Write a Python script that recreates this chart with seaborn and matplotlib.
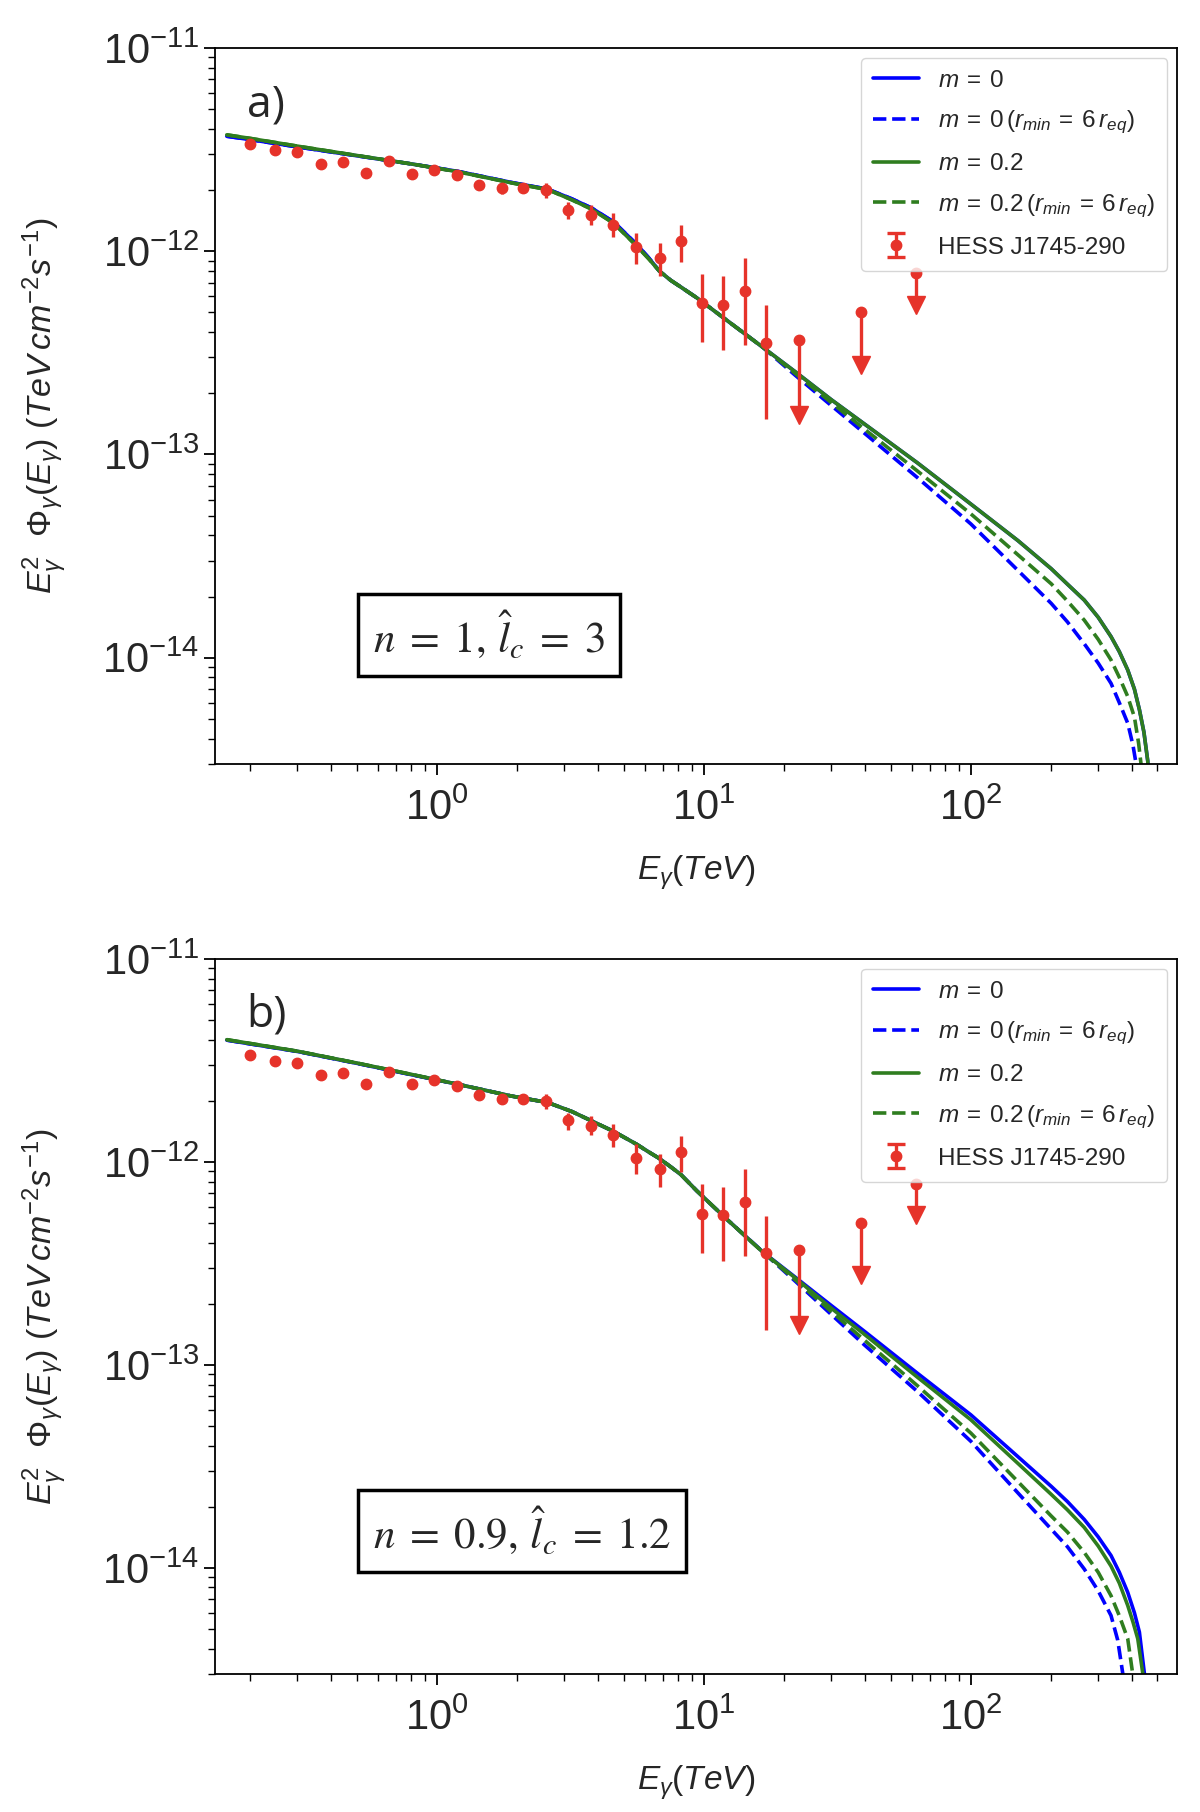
import numpy as np
import matplotlib
matplotlib.use("Agg")
import matplotlib.pyplot as plt
import seaborn as sns
from matplotlib.container import ErrorbarContainer
from matplotlib.lines import Line2D
from matplotlib.collections import LineCollection

# HESS J1745-290 points (E in TeV, flux in 1e-12 TeV cm^-2 s^-1)
hess_E = [0.200, 0.247, 0.300, 0.369, 0.443, 0.540, 0.662, 0.806, 0.975, 1.19, 1.43, 1.75,
          2.10, 2.57, 3.09, 3.78, 4.55, 5.55, 6.83, 8.20, 9.84, 11.8, 14.2, 17.1]
hess_F = [3.36, 3.14, 3.08, 2.69, 2.75, 2.43, 2.77, 2.41, 2.52, 2.37, 2.13, 2.04,
          2.04, 2.00, 1.60, 1.51, 1.35, 1.05, 0.924, 1.12, 0.556, 0.546, 0.634, 0.354]
hess_lo = [0.04, 0.04, 0.04, 0.04, 0.05, 0.07, 0.05, 0.05, 0.05, 0.05, 0.06, 0.12,
           0.07, 0.17, 0.16, 0.16, 0.17, 0.18, 0.17, 0.23, 0.20, 0.22, 0.29, 0.205]
hess_hi = [0.04, 0.04, 0.04, 0.04, 0.05, 0.07, 0.05, 0.05, 0.05, 0.05, 0.06, 0.12,
           0.07, 0.17, 0.15, 0.18, 0.19, 0.18, 0.17, 0.22, 0.22, 0.21, 0.29, 0.19]
# upper limits: value and arrow length
ul_E = [22.8, 38.9, 62.2]
ul_F = [0.367, 0.501, 0.78]
ul_len = [0.210, 0.225, 0.235]

# model curves, common low-energy grid
E_core = [0.163, 0.2, 0.3, 0.5, 0.8, 1.2, 1.9, 2.6, 3.2, 3.8, 4.6, 5.6, 6.2, 6.8, 7.5, 8.2, 9.4, 12, 16.7]

# panel a: n = 1, l_c = 3
a_core_m0 = [3.68, 3.54, 3.26, 2.95, 2.69, 2.47, 2.18, 2.02, 1.81, 1.63, 1.39, 1.08, 0.93, 0.80, 0.72, 0.666, 0.59, 0.464, 0.335]
a_core_m2 = [3.74, 3.59, 3.29, 2.96, 2.69, 2.46, 2.17, 2.01, 1.79, 1.61, 1.37, 1.06, 0.92, 0.80, 0.72, 0.666, 0.59, 0.464, 0.335]
a_tail_m0_E = [22, 30, 40, 63, 100, 150, 200, 230, 266, 300, 335, 360, 387, 410, 428, 445, 460, 475]
a_tail_m0_F = [0.255, 0.186, 0.141, 0.091, 0.057, 0.0377, 0.0274, 0.0230, 0.0192, 0.0158, 0.0127, 0.0107,
               0.0087, 0.0070, 0.00555, 0.0043, 0.0031, 0.001]
a_tail_m0r_E = [22, 30, 40, 63, 100, 150, 200, 230, 266, 300, 335, 360, 387, 405, 416, 430]
a_tail_m0r_F = [0.245, 0.174, 0.127, 0.077, 0.0455, 0.0269, 0.0185, 0.0150, 0.0117, 0.0094, 0.00748, 0.0060,
                0.00476, 0.0037, 0.003, 0.001]
a_tail_m2_E = [22, 30, 40, 63, 100, 150, 200, 230, 266, 300, 335, 360, 387, 410, 428, 445, 460, 478]
a_tail_m2_F = [0.255, 0.186, 0.141, 0.091, 0.057, 0.0377, 0.0274, 0.0230, 0.0192, 0.0158, 0.0127, 0.0107,
               0.0087, 0.0070, 0.00555, 0.0043, 0.0031, 0.001]
a_tail_m2r_E = [22, 30, 40, 63, 100, 150, 200, 230, 266, 300, 335, 360, 387, 410, 425, 434, 450]
a_tail_m2r_F = [0.250, 0.180, 0.133, 0.083, 0.051, 0.0321, 0.0231, 0.0190, 0.0153, 0.0123, 0.00975, 0.0080,
                0.00644, 0.0051, 0.0038, 0.003, 0.001]

# panel b: n = 0.9, l_c = 1.2
b_core_m0 = [3.98, 3.81, 3.50, 3.06, 2.69, 2.41, 2.11, 1.96, 1.77, 1.59, 1.41, 1.22, 1.12, 1.04, 0.946, 0.865, 0.72, 0.531, 0.358]
b_core_m2 = [4.00, 3.83, 3.51, 3.07, 2.70, 2.41, 2.11, 1.96, 1.77, 1.59, 1.41, 1.22, 1.12, 1.04, 0.946, 0.865, 0.72, 0.531, 0.357]
b_tail_m0_E = [22, 30, 40, 63, 100, 150, 200, 230, 266, 300, 335, 360, 387, 410, 428, 447, 462]
b_tail_m0_F = [0.270, 0.196, 0.146, 0.091, 0.0567, 0.0353, 0.0252, 0.0212, 0.0173, 0.0142, 0.0115, 0.0095,
               0.00757, 0.0060, 0.00482, 0.003, 0.001]
b_tail_m0r_E = [22, 30, 40, 63, 100, 150, 200, 230, 266, 300, 335, 355, 371, 385]
b_tail_m0r_F = [0.258, 0.177, 0.125, 0.074, 0.042, 0.0234, 0.0155, 0.0127, 0.00986, 0.0077, 0.00582, 0.0044,
                0.003, 0.001]
b_tail_m2_E = [22, 30, 40, 63, 100, 150, 200, 230, 266, 300, 335, 360, 387, 405, 422, 441, 456]
b_tail_m2_F = [0.268, 0.190, 0.141, 0.087, 0.0536, 0.0327, 0.0230, 0.0193, 0.0158, 0.0128, 0.0102, 0.0084,
               0.00652, 0.0054, 0.00447, 0.003, 0.001]
b_tail_m2r_E = [22, 30, 40, 63, 100, 150, 200, 230, 266, 300, 335, 360, 387, 404, 420]
b_tail_m2r_F = [0.262, 0.183, 0.132, 0.079, 0.0461, 0.0266, 0.0180, 0.0150, 0.0119, 0.0095, 0.00729, 0.0058,
                0.00447, 0.003, 0.001]

labels = [r"$m\:=\:0$", r"$m\:=\:0\,(r_{min}\:=\:6\,r_{eq})$",
          r"$m\:=\:0.2$", r"$m\:=\:0.2\,(r_{min}\:=\:6\,r_{eq})$"]
hess_label = "HESS J1745-290"

sns.set_theme(style="ticks")
plt.rcParams["font.family"] = ["Liberation Sans", "DejaVu Sans"]
plt.rcParams["mathtext.fontset"] = "custom"
plt.rcParams["mathtext.rm"] = "Liberation Sans"
plt.rcParams["mathtext.it"] = "Liberation Sans:italic"
plt.rcParams["mathtext.bf"] = "Liberation Sans:bold"

blue = "#0000ff"
green = "#2f7d1f"
red = "#e6332a"


def panel(ax, core_m0, core_m2, tails, tag, box_text, box_xy):
    ax.set_xscale("log")
    ax.set_yscale("log")
    styles = [(blue, "-"), (blue, "--"), (green, "-"), (green, "--")]
    cores = [core_m0, core_m0, core_m2, core_m2]
    for (col, ls), core, (tE, tF), lab in zip(styles, cores, tails, labels):
        E = np.concatenate([E_core, tE])
        F = np.concatenate([core, tF]) * 1e-12
        sns.lineplot(x=E, y=F, ax=ax, color=col, linestyle=ls, lw=2.6,
                     estimator=None, sort=False, label=lab)

    ax.errorbar(hess_E, np.array(hess_F) * 1e-12,
                yerr=[np.array(hess_lo) * 1e-12, np.array(hess_hi) * 1e-12],
                fmt="o", color=red, ms=7.5, elinewidth=2.4, capsize=0, zorder=4)
    ulF = np.array(ul_F) * 1e-12
    ulL = np.array(ul_len) * 1e-12
    ax.errorbar(ul_E, ulF, yerr=[ulL, np.zeros_like(ulL)],
                fmt="o", color=red, ms=7.5, elinewidth=2.4, capsize=0, zorder=4)
    ax.plot(ul_E, ulF - ulL, "v", color=red, ms=13, zorder=4)

    ax.set_xlim(0.147, 593)
    ax.set_ylim(3.0e-15, 1e-11)
    ax.tick_params(which="major", length=8, width=1.3, labelsize=30,
                   direction="out", top=False, right=False, color="black")
    ax.tick_params(axis="x", which="major", pad=10)
    ax.tick_params(axis="y", which="major", pad=3)
    ax.tick_params(which="minor", length=5, width=1.0, direction="out",
                   top=False, right=False, color="black")
    for s in ax.spines.values():
        s.set_color("black")
        s.set_linewidth(1.3)

    ax.set_xlabel(r"$E_\gamma (TeV)$", fontsize=24)
    ax.set_ylabel(r"$E_\gamma^2\ \ \Phi_\gamma(E_\gamma)\ (TeV\,cm^{-2}s^{-1})$", fontsize=24.5)
    ax.xaxis.set_label_coords(0.5, -0.125)
    ax.yaxis.set_label_coords(-0.152, 0.5)

    # legend proxy for the capped error-bar symbol
    dl = Line2D([], [], marker="o", color=red, ms=7.5, ls="none")
    cap = Line2D([], [], marker="_", color=red, ms=13, mew=2.4, ls="none")
    bar = LineCollection([], colors=red, linewidths=2.4)
    proxy = ErrorbarContainer((dl, (cap, cap), (bar,)), has_xerr=False, has_yerr=True)
    handles, labs = ax.get_legend_handles_labels()
    handles.append(proxy)
    labs.append(hess_label)
    leg = ax.legend(handles, labs, loc="upper right", fontsize=17.5, handlelength=1.9,
                    labelspacing=0.7, borderaxespad=0.4, borderpad=0.5, framealpha=0.8)
    leg.get_frame().set_edgecolor("#cccccc")

    ax.text(0.033, 0.905, tag, transform=ax.transAxes, fontsize=32,
            family="Open Sans", va="baseline", ha="left")
    ax.text(box_xy[0], box_xy[1], box_text, transform=ax.transAxes, fontsize=31,
            math_fontfamily="stix", ha="center", va="center",
            bbox=dict(boxstyle="square,pad=0.35", facecolor="white",
                      edgecolor="black", linewidth=2.5))


fig = plt.figure(figsize=(12, 18.12), dpi=100)
ax_a = fig.add_axes([0.179, 0.5784, 0.802, 0.3951])
ax_b = fig.add_axes([0.179, 0.0762, 0.802, 0.3946])

panel(ax_a, a_core_m0, a_core_m2,
      [(a_tail_m0_E, a_tail_m0_F), (a_tail_m0r_E, a_tail_m0r_F),
       (a_tail_m2_E, a_tail_m2_F), (a_tail_m2r_E, a_tail_m2r_F)],
      "a)", r"$n\;=\;1,\,\hat{l}_c\;=\;3$", (0.285, 0.180))
panel(ax_b, b_core_m0, b_core_m2,
      [(b_tail_m0_E, b_tail_m0_F), (b_tail_m0r_E, b_tail_m0r_F),
       (b_tail_m2_E, b_tail_m2_F), (b_tail_m2r_E, b_tail_m2r_F)],
      "b)", r"$n\;=\;0.9,\,\hat{l}_c\;=\;1.2$", (0.319, 0.200))

fig.savefig("out.png", dpi=100, facecolor="white")
